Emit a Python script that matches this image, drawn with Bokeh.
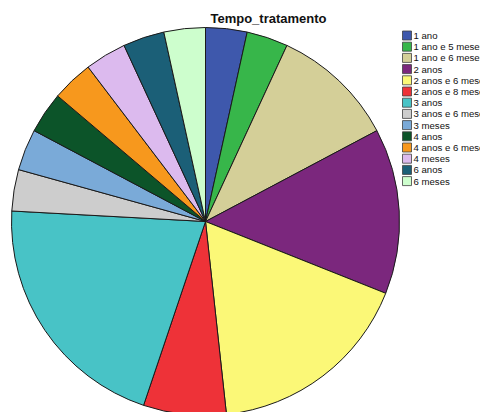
import numpy as np
import pandas as pd
from bokeh.plotting import figure
from bokeh.models import Range1d, ColumnDataSource
from bokeh.core.properties import value
from bokeh.embed import file_html
from bokeh.resources import INLINE

categories = ["1 ano", "1 ano e 5 meses", "1 ano e 6 meses", "2 anos", "2 anos e 6 meses",
              "2 anos e 8 meses", "3 anos", "3 anos e 6 meses", "3 meses", "4 anos",
              "4 anos e 6 meses", "4 meses", "6 anos", "6 meses"]
counts = [1, 1, 3, 4, 5, 2, 6, 1, 1, 1, 1, 1, 1, 1]
colors = ["#3e58ac", "#37b64a", "#d4cf98", "#7b277d", "#fbf877", "#ee3238",
          "#48c3c6", "#cdcdcd", "#7aaad8", "#0c5429", "#f7981d", "#dcbaee",
          "#1b5f77", "#cdfecd"]
title = "Tempo_tratamento"

W, H = 480, 412
cx, cy, r = 205, H - 221, 194

df = pd.DataFrame({"cat": categories, "n": counts, "color": colors})
frac = df["n"] / df["n"].sum() * 2 * np.pi
cum = frac.cumsum()
df["end"] = np.pi / 2 - (cum - frac)
df["start"] = np.pi / 2 - cum
src = ColumnDataSource(df)

p = figure(width=W, height=H, output_backend="svg", toolbar_location=None,
           x_range=Range1d(0, W), y_range=Range1d(0, H), min_border=0)
p.axis.visible = False
p.grid.visible = False
p.outline_line_color = None
p.background_fill_color = "white"

p.wedge(x=cx, y=cy, radius=r, start_angle="start", end_angle="end",
        fill_color="color", line_color="#1a1a1a", line_width=1, source=src)

p.text(x=[268], y=[H - 18], text=[title], text_font=value("Liberation Sans"),
       text_font_style="bold", text_font_size="13px", text_align="center",
       text_baseline="middle", text_color="#111111")

idx = np.arange(len(categories))
ly = H - (35 + idx * 11.2)
leg = ColumnDataSource(dict(x=np.full(len(idx), 406.5), y=ly, tx=np.full(len(idx), 413.0),
                            color=colors, label=categories))
p.rect(x="x", y="y", width=9, height=9, fill_color="color", line_color="#404040",
       line_width=0.8, source=leg)
p.text(x="tx", y="y", text="label", text_font=value("Liberation Sans"),
       text_font_size="9.6px", text_baseline="middle", text_color="#111111", source=leg)

open("out.html", "w").write(file_html(p, INLINE))
